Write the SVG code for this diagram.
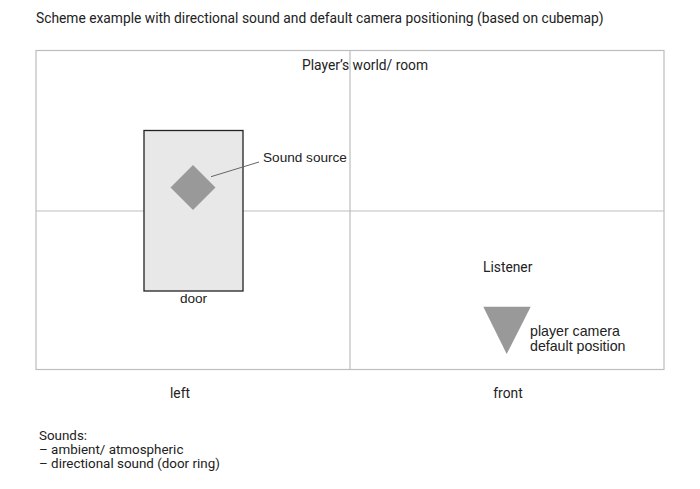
<svg xmlns="http://www.w3.org/2000/svg" width="700" height="489" viewBox="0 0 700 489">
<style>
text{font-family:Roboto,"Liberation Sans",sans-serif;font-size:13.8px;fill:#222}
.a{font-family:"Liberation Sans",Arial,sans-serif;font-size:13.6px}
.b{font-size:14.2px}
.l{font-size:13.4px}
.grid{stroke:#bdbdbd;stroke-width:1.2;fill:none}
.shape{fill:#999}
</style>
<rect width="700" height="489" fill="#fff"/>
<text x="36" y="23">Scheme example with directional sound and default camera positioning (based on cubemap)</text>
<g id="room">
<rect class="grid" x="36" y="50.5" width="628" height="319"/>
<line class="grid" x1="350" y1="50.5" x2="350" y2="369.5"/>
<line class="grid" x1="36" y1="211" x2="664" y2="211"/>
<text x="302" y="70">Player’s world/ room</text>
<text x="180" y="398" text-anchor="middle">left</text>
<text x="508" y="398" text-anchor="middle">front</text>
</g>
<g id="door">
<rect x="144" y="130.5" width="99" height="160.5" fill="#e8e8e8" stroke="#222" stroke-width="1.3"/>
<text class="a" x="193.5" y="303" text-anchor="middle">door</text>
</g>
<g id="sound-source">
<polygon class="shape" points="193,165 215.5,187.5 193,210 170.5,187.5"/>
<text class="a" x="263" y="162">Sound source</text>
</g>
<g id="connectors">
<line x1="211" y1="176.7" x2="259" y2="162" stroke="#666" stroke-width="1"/>
</g>
<g id="listener">
<text x="483" y="272">Listener</text>
<polygon class="shape" points="483.3,306.7 530.7,306.7 506.7,354"/>
<text class="a b" x="530" y="336">player camera</text>
<text class="a b" x="530" y="351">default position</text>
</g>
<g id="legend">
<text class="l" x="39" y="439.5">Sounds:</text>
<text class="l" x="39" y="453.7">– ambient/ atmospheric</text>
<text class="l" x="39" y="468">– directional sound (door ring)</text>
</g>
</svg>
